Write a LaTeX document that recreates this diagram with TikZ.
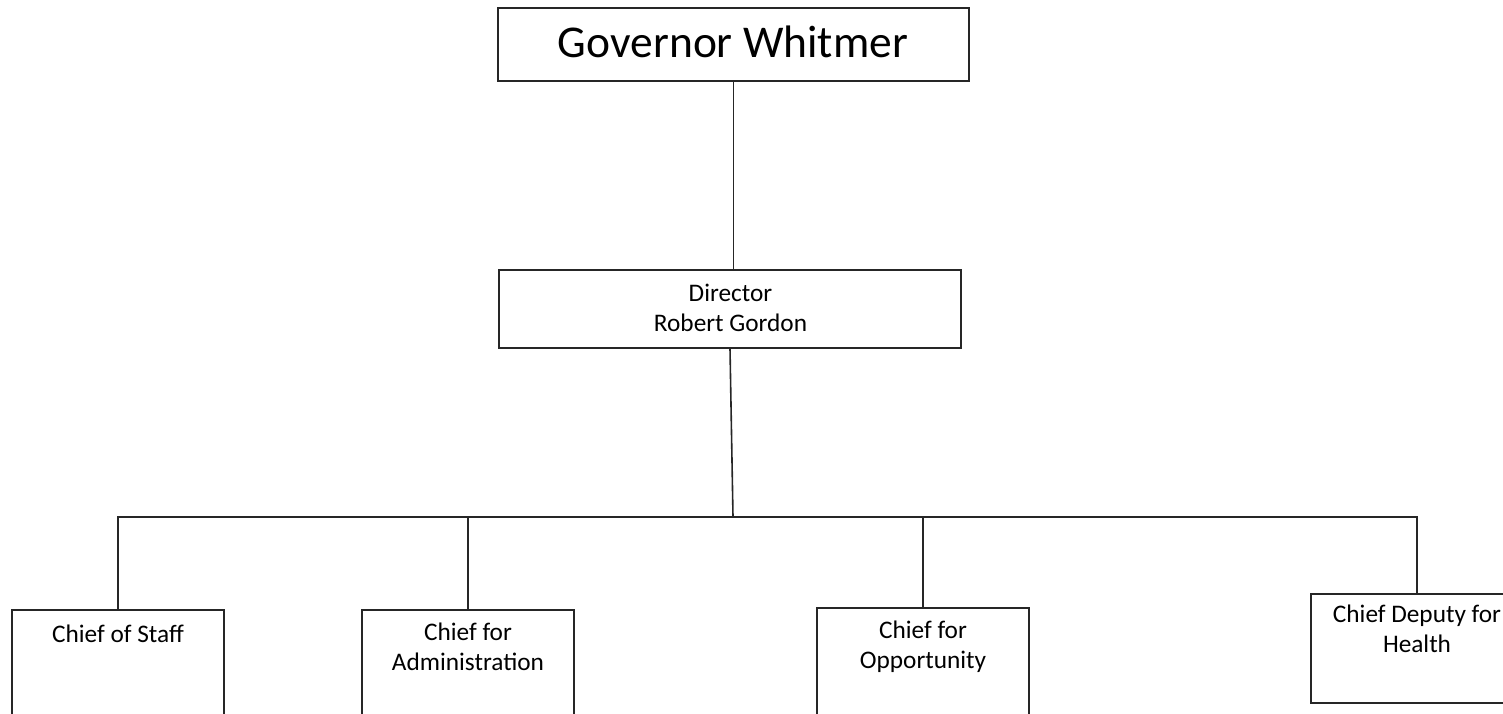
\documentclass[tikz,border=0pt]{standalone}
\usepackage{fontspec}
\setmainfont{Carlito}
\begin{document}
\begin{tikzpicture}[x=1pt,y=-1pt,
  box/.style={draw=black!85, line width=1.6pt, inner sep=0pt, fill=white},
  conn/.style={draw=black!85, line width=1.6pt},
  big/.style={font=\fontsize{45.5}{54}\selectfont, inner sep=0pt, anchor=base},
  lbl/.style={font=\fontsize{25.3}{29.3}\selectfont, align=center, inner sep=0pt, anchor=base}]
\useasboundingbox (0,0) rectangle (1503,714);
\clip (0,0) rectangle (1503,714);
% boxes
\node[box, minimum width=471pt, minimum height=73pt] (gov) at (733.5,44.5) {};
\node[box, minimum width=462pt, minimum height=78pt] (dir) at (730,309) {};
\node[box, anchor=north, minimum width=212pt, minimum height=150pt] (staff) at (118,609) {};
\node[box, anchor=north, minimum width=212pt, minimum height=150pt] (admin) at (468,609) {};
\node[box, anchor=north, minimum width=212pt, minimum height=150pt] (opp) at (923,607) {};
\node[box, anchor=north, minimum width=212pt, minimum height=109pt] (health) at (1417,593) {};
% texts (base anchor = baseline of last line)
\node[big] (govt) at (733,58) {Governor Whitmer};
\node[lbl] (dirt) at (730.5,331) {Director\\Robert Gordon};
\node[lbl] (stafft) at (118,642) {Chief of Staff};
\node[lbl] (admint) at (468,670) {Chief for\\Administration};
\node[lbl] (oppt) at (923,668) {Chief for\\Opportunity};
\node[lbl] (healtht) at (1417,652) {Chief Deputy for\\Health};
% connectors
\coordinate (bus) at (733,517);
\draw[conn] (gov.south) -- (gov.south |- dir.north);
\draw[conn] (dir.south) -- (bus);
\draw[conn] (staff.north) |- (bus) -| (health.north);
\draw[conn] (admin.north) -- (admin.north |- bus);
\draw[conn] (opp.north) -- (opp.north |- bus);
\end{tikzpicture}
\end{document}
